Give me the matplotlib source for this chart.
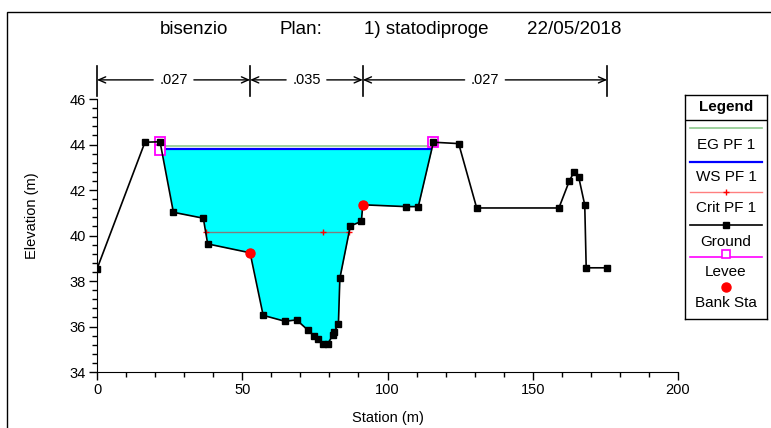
import matplotlib
matplotlib.use("Agg")
import matplotlib.pyplot as plt
from matplotlib import font_manager
from matplotlib.patches import Rectangle

# pick a narrow sans face if one is installed
available = {f.name for f in font_manager.fontManager.ttflist}
for name in ["Liberation Sans Narrow", "Liberation Sans", "DejaVu Sans"]:
    if name in available:
        plt.rcParams["font.family"] = name
        break

# cross section data
ground_x = [0, 16.5, 21.7, 26.3, 36.6, 38.1, 52.7, 57.2, 64.7, 68.7, 72.7, 74.8, 76.0,
            77.9, 79.4, 81.1, 81.6, 83.1, 83.6, 87.2, 91.0, 91.5, 106.4, 110.6, 115.8,
            124.5, 130.7, 159.0, 162.6, 164.2, 165.8, 167.9, 168.4, 175.6]
ground_y = [38.53, 44.1, 44.12, 41.02, 40.76, 39.63, 39.24, 36.49, 36.23, 36.29, 35.83,
            35.58, 35.43, 35.23, 35.23, 35.61, 35.76, 36.1, 38.12, 40.42, 40.62, 41.35,
            41.27, 41.27, 44.1, 44.04, 41.21, 41.21, 42.4, 42.79, 42.58, 41.34, 38.58, 38.58]

ws_elev = 43.79
eg_elev = 43.93
crit_elev = 40.17
crit_x = [37.5, 77.9, 86.9]
levee_x = [21.7, 21.7, 115.8]
levee_y = [44.12, 43.78, 44.1]
bank_x = [52.7, 91.5]
bank_y = [39.24, 41.35]
n_stations = [0, 52.7, 91.5, 175.6]
n_values = [".027", ".035", ".027"]
title_parts = ["bisenzio", "Plan:", "1) statodiproge", "22/05/2018"]
title_x = [194, 301, 426, 574]

fig = plt.figure(figsize=(7.71, 4.28), dpi=100)
W, H = 771, 428
ax = fig.add_axes([97 / W, (H - 372) / H, 581 / W, 312 / H])

# water between the levees
mask = [levee_x[0] - 0.5 <= x <= levee_x[-1] + 0.5 and y < ws_elev
        for x, y in zip(ground_x, ground_y)]
ax.fill_between(ground_x, ground_y, ws_elev, where=mask, interpolate=True,
                color="#00ffff", linewidth=0, zorder=1)
ax.plot([levee_x[0], levee_x[-1]], [eg_elev, eg_elev], color="#8cc88c", lw=1.2, zorder=2)
ax.plot([22.2, 114.9], [ws_elev, ws_elev], color="#0000ff", lw=1.6, zorder=3)
ax.plot(crit_x, [crit_elev] * len(crit_x), color="red", alpha=0.5, lw=1, zorder=3)
ax.plot(crit_x, [crit_elev] * len(crit_x), linestyle="none", marker="+",
        markersize=5, markeredgecolor="red", markeredgewidth=1, zorder=3)
ax.plot(levee_x, levee_y, linestyle="none", marker="s", markersize=7,
        markerfacecolor="white", markeredgecolor="#ff00ff", markeredgewidth=1.3, zorder=4)
ax.plot(ground_x, ground_y, color="black", lw=1.2, marker="s", markersize=4.5, zorder=5)
ax.plot(bank_x, bank_y, linestyle="none", marker="o", markersize=6.5, color="red", zorder=6)

# manning's n bars
y_arrow = 46.84
for x0 in n_stations:
    ax.plot([x0, x0], [46.12, 47.45], color="black", lw=1.2, clip_on=False)
for i, n in enumerate(n_values):
    x0, x1 = n_stations[i], n_stations[i + 1]
    mid = (x0 + x1) / 2
    ax.text(mid, y_arrow, n, ha="center", va="center", fontsize=10.5)
    for end, start in [(x0, mid - 7), (x1, mid + 7)]:
        ax.annotate("", xy=(end, y_arrow), xytext=(start, y_arrow),
                    arrowprops=dict(arrowstyle="->,head_length=0.5,head_width=0.22",
                                    color="black", lw=1, shrinkA=0, shrinkB=0))

ax.set_xlim(0, 200)
ax.set_ylim(34, 34 + 312 / 22.75)
ax.set_xticks([0, 50, 100, 150, 200])
ax.set_xticks(range(0, 201, 10), minor=True)
ax.set_yticks([34, 36, 38, 40, 42, 44, 46])
ax.set_yticks([34 + 0.4 * k for k in range(31)], minor=True)
ax.spines["top"].set_visible(False)
ax.spines["right"].set_visible(False)
ax.spines["left"].set_bounds(34, 46)
ax.tick_params(which="major", length=6, width=1, labelsize=10.5, pad=2)
ax.tick_params(which="minor", length=3.5, width=1)
ax.set_xlabel("Station (m)", fontsize=10.5, labelpad=10)
ax.set_ylabel("Elevation (m)", fontsize=10.5, labelpad=22)

for part, px in zip(title_parts, title_x):
    fig.text(px / W, 1 - 30 / H, part, ha="center", va="center", fontsize=13.5)

# outer frame
fig.add_artist(Rectangle((7 / W, -0.1), 1.1, 1.1 - 12 / H,
                         transform=fig.transFigure, fill=False, lw=1, color="black"))

# legend panel
lg = fig.add_axes([685 / W, (H - 319) / H, 82 / W, 224 / H])
lg.set_xlim(0, 82)
lg.set_ylim(224, 0)
lg.set_xticks([])
lg.set_yticks([])
for s in lg.spines.values():
    s.set_linewidth(1)
lg.text(41, 12, "Legend", ha="center", va="center", fontsize=11, fontweight="bold")
lg.plot([0, 82], [25, 25], color="black", lw=1)
lx = [5, 77]
fs = 11
lg.plot(lx, [33, 33], color="#8cc88c", lw=1.2)
lg.text(41, 50, "EG PF 1", ha="center", va="center", fontsize=fs)
lg.plot(lx, [67, 67], color="#0000ff", lw=1.6)
lg.text(41, 82, "WS PF 1", ha="center", va="center", fontsize=fs)
lg.plot(lx, [97, 97], color="red", alpha=0.5, lw=1)
lg.plot([41], [97], marker="+", markersize=5, markeredgecolor="red", markeredgewidth=1)
lg.text(41, 113, "Crit PF 1", ha="center", va="center", fontsize=fs)
lg.plot(lx, [130, 130], color="black", lw=1.2)
lg.plot([41], [130], marker="s", markersize=4.5, color="black")
lg.text(41, 147, "Ground", ha="center", va="center", fontsize=fs)
lg.plot(lx, [162, 162], color="#ff00ff", lw=1.2)
lg.plot([41], [159], marker="s", markersize=6, markerfacecolor="white",
        markeredgecolor="#ff00ff", markeredgewidth=1.2)
lg.text(41, 177, "Levee", ha="center", va="center", fontsize=fs)
lg.plot([41], [192], marker="o", markersize=6.5, color="red")
lg.text(41, 208, "Bank Sta", ha="center", va="center", fontsize=fs)

fig.savefig("out.png", dpi=100)
